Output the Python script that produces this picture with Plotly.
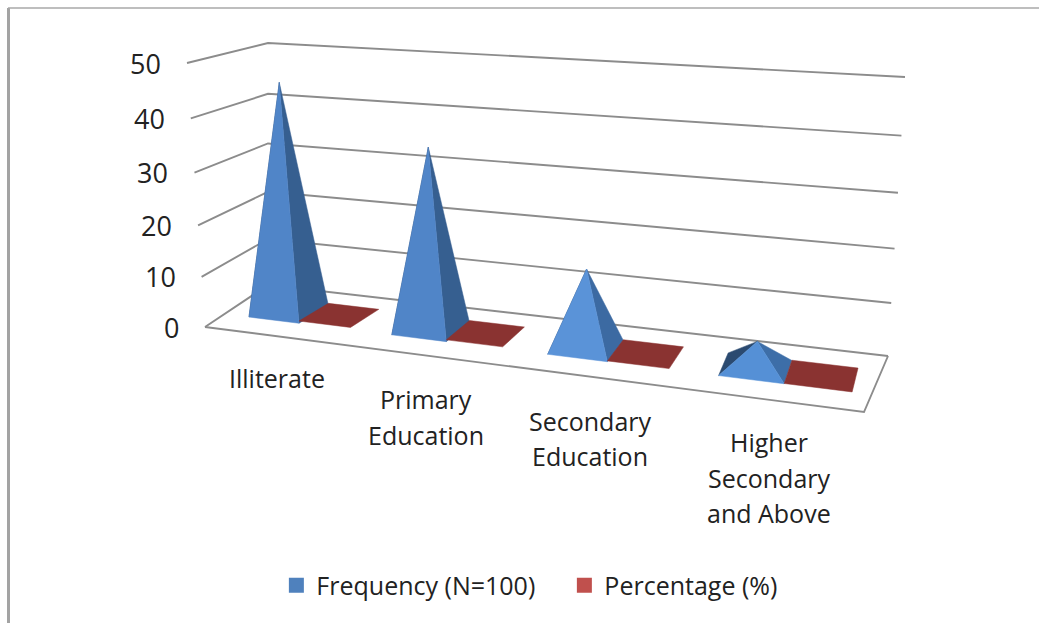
import numpy as np
import plotly.graph_objects as go

# ---- data
categories = ["Illiterate", "Primary\nEducation", "Secondary\nEducation", "Higher\nSecondary\nand Above"]
frequency = [45, 35, 15, 5]
percentage = [0.45, 0.35, 0.15, 0.05]
axis_ticks = [0, 10, 20, 30, 40, 50]
series_names = ["Frequency (N=100)", "Percentage (%)"]

# ---- 3-D style projection onto the pixel-sized 2-D axes
FL, FR, BR, BL = map(np.array, [(205., 327.), (864., 412.), (888., 356.), (268., 285.)])
OFF_FL, OFF_BL, OFF_BR, OFF_FR = map(np.array, [(-18., -264.), (0., -242.), (17., -279.), (26., -300.)])
TICK_FRAC = [0, .19, .385, .585, .79, 1]
WARP = 1.2
BAR_W, BAR_START, D0, D1, APEX_SHIFT = .36, .18, .31, .73, -.01
BACK_SKEW, BACK_SKEW_STEP = .035, -.02


def bil(a, b, c, d, x, depth):
    return (1 - x) * (1 - depth) * a + x * (1 - depth) * b + x * depth * c + (1 - x) * depth * d


def proj(u, depth, h):
    t = u / 4
    x = t / (t + WARP * (1 - t))
    return bil(FL, FR, BR, BL, x, depth) + bil(OFF_FL, OFF_FR, OFF_BR, OFF_BL, x, depth) * np.interp(h, axis_ticks, TICK_FRAC)


def poly(points, color):
    pts = np.array(points + points[:1])
    return go.Scatter(x=pts[:, 0], y=pts[:, 1], mode="lines", fill="toself", fillcolor=color,
                      line=dict(color=color, width=0.5), hoverinfo="skip", showlegend=False)


fig = go.Figure()
GRID = "#8c8c8c"


def line(points, w=1.9):
    pts = np.array(points)
    fig.add_trace(go.Scatter(x=pts[:, 0], y=pts[:, 1], mode="lines", line=dict(color=GRID, width=w),
                             hoverinfo="skip", showlegend=False))


for h in axis_ticks:
    line([proj(0, 0, h), proj(0, 1, h), proj(4, 1, h)])
line([proj(0, 0, 0), proj(4, 0, 0), proj(4, 1, 0)])

front = ["#5085c8", "#5085c8", "#5a93d8", "#5590d6"]
side = ["#365f90", "#365f90", "#3c6aa2", "#3d6ea8"]
left = "#2b4a70"
red_top = "#8a3331"

for k in range(4):
    u0 = k + BAR_START
    u1 = u0 + BAR_W
    u2 = u1 + BAR_W
    um = (u0 + u1) / 2 + APEX_SHIFT
    sk = BACK_SKEW + BACK_SKEW_STEP * k
    apex = proj(um, (D0 + D1) / 2, frequency[k])
    fl, fr, br, bl = proj(u0, D0, 0), proj(u1, D0, 0), proj(u1 + sk, D1, 0), proj(u0 + sk, D1, 0)
    fig.add_trace(poly([fl, bl, apex], left))
    fig.add_trace(poly([fr, br, apex], side[k]))
    fig.add_trace(poly([fl, fr, apex], front[k]))
    ph = percentage[k]
    fig.add_trace(poly([proj(u1, D0, ph), proj(u1 + sk, D1, ph), proj(u2 + sk, D1, ph), proj(u2, D0, ph)], red_top))

FONT = "Open Sans"
TXT = "#222222"
# value axis labels
for h in axis_ticks:
    p = proj(0, 0, h)
    fig.add_annotation(x=p[0] - 24, y=p[1], text=str(h), showarrow=False, xanchor="right", yanchor="middle",
                       font=dict(family=FONT, size=27, color=TXT))
# category labels
for k, c in enumerate(categories):
    cx = proj(k + .5, 0, 0)[0] + 1.5
    for j, ln in enumerate(c.split("\n")):
        fig.add_annotation(x=cx, y=377.5 + 21.6 * k + 35.5 * j, text=ln, showarrow=False, xanchor="center",
                           yanchor="middle", font=dict(family=FONT, size=25, color=TXT))

# native legend
for name, col in zip(series_names, ["#4f81bd", "#c0504d"]):
    fig.add_trace(go.Scatter(x=[None], y=[None], mode="markers", name=name,
                             marker=dict(symbol="square", size=15, color=col)))

# frame of the picture
fig.add_shape(type="line", x0=8.5, x1=8.5, y0=8, y1=623, line=dict(color="#a3a3a3", width=3))
fig.add_shape(type="line", x0=8, x1=1039, y0=8, y1=8, line=dict(color="#a8a8a8", width=1.5))

fig.update_layout(
    width=1039, height=623, margin=dict(l=0, r=0, t=0, b=0),
    paper_bgcolor="white", plot_bgcolor="white",
    xaxis=dict(range=[0, 1039], visible=False, fixedrange=True),
    yaxis=dict(range=[623, 0], visible=False, fixedrange=True),
    legend=dict(orientation="h", x=0.266, y=0.06, xanchor="left", yanchor="middle", entrywidth=243,
                font=dict(family=FONT, size=25, color=TXT), bgcolor="rgba(0,0,0,0)"),
)
fig.write_html("out.html", config={"displayModeBar": False}, post_script="document.body.style.margin='0';")
